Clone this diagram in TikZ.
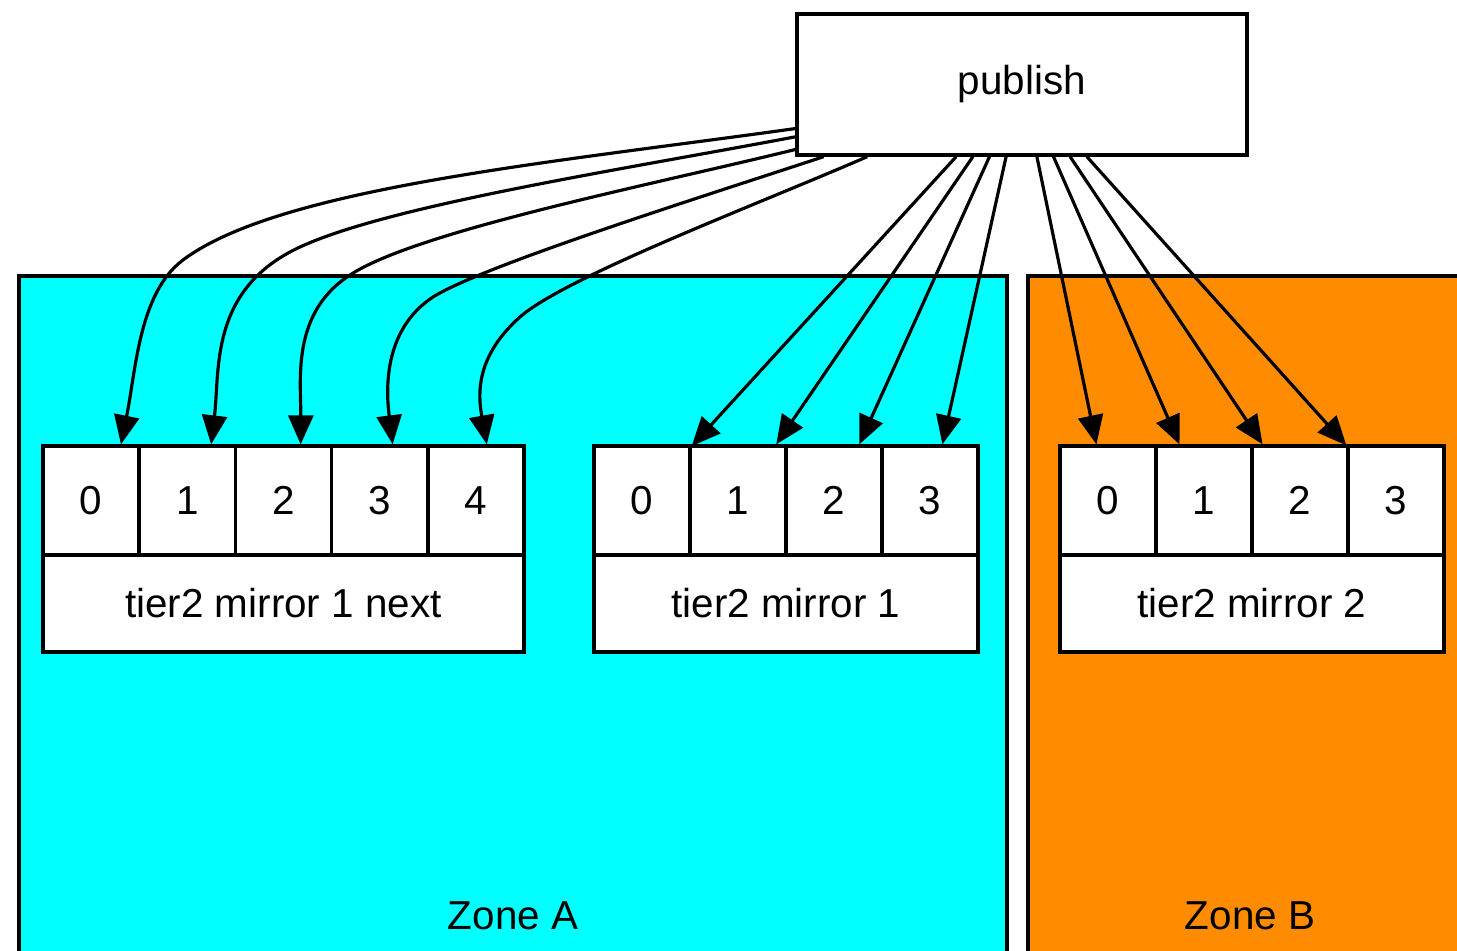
\documentclass[tikz,border=0pt]{standalone}
\usepackage{fontspec}
\setmainfont{Liberation Sans}
\usetikzlibrary{arrows.meta}
\definecolor{zonecyan}{RGB}{0,255,255}
\definecolor{zoneorange}{RGB}{255,140,0}

\begin{document}
\begin{tikzpicture}[
    x=0.02cm, y=-0.02cm,
    font=\fontsize{23}{27}\selectfont,
    >={Triangle[length=0.58cm,width=0.5cm]},
    zone/.style={
      draw,
      line width=1.9pt
    },
    slot/.style={
      draw,
      fill=white,
      line width=1.9pt,
      minimum width=1.92cm,
      minimum height=2.18cm,
      inner sep=0pt
    },
    mirror/.style={
      draw,
      fill=white,
      line width=1.9pt,
      minimum height=1.94cm,
      inner sep=0pt
    },
    publisher/.style={
      draw,
      fill=white,
      line width=1.9pt,
      minimum width=9cm,
      minimum height=2.82cm
    },
    link/.style={
      ->,
      line width=1.8pt
    }
  ]
    \useasboundingbox (0,0) rectangle (1457,950);
    \clip (0,0) rectangle (1457,950);

    % zones
    \draw[zone, fill=zonecyan] (19,276) rectangle (1007,970);
    \draw[zone, fill=zoneorange] (1028,276) rectangle (1472,970);
    \node (zA) at (513,916) {Zone A};
    \node (zB) at (1250,916) {Zone B};

    \node[publisher] (pub) at (1022,84.5) {publish};

    % tier2 mirror 1 next
    \node[slot] (n0) at (91.1,500.5) {0};
    \node[slot] (n1) at (187.3,500.5) {1};
    \node[slot] (n2) at (283.5,500.5) {2};
    \node[slot] (n3) at (379.7,500.5) {3};
    \node[slot] (n4) at (475.9,500.5) {4};
    \node[mirror, minimum width=9.62cm] (next) at (283.5,603.5) {tier2 mirror 1 next};

    % tier2 mirror 1
    \node[slot] (a0) at (642,500.5) {0};
    \node[slot] (a1) at (738,500.5) {1};
    \node[slot] (a2) at (834,500.5) {2};
    \node[slot] (a3) at (930,500.5) {3};
    \node[mirror, minimum width=7.68cm] (mirA) at (786,603.5) {tier2 mirror 1};

    % tier2 mirror 2
    \node[slot] (b0) at (1108,500.5) {0};
    \node[slot] (b1) at (1204,500.5) {1};
    \node[slot] (b2) at (1300,500.5) {2};
    \node[slot] (b3) at (1396,500.5) {3};
    \node[mirror, minimum width=7.68cm] (mirB) at (1252,603.5) {tier2 mirror 2};

    \draw[link] (pub.191) .. controls (549,163) and (279,188) .. (183,260)
      .. controls (139,293) and (136,370) .. (n0.62);
    \draw[link] (pub.193) .. controls (620,170) and (391,205) .. (300,247)
      .. controls (209,289) and (220,370) .. (n1.67);
    \draw[link] (pub.196) .. controls (651,185) and (417,231) .. (350,275)
      .. controls (291,313) and (301,380) .. (n2.73);
    \draw[link] (pub.200) .. controls (714,193) and (484,265) .. (433,297)
      .. controls (383,330) and (386,390) .. (n3.77);
    \draw[link] (pub.205) .. controls (761,203) and (565,277) .. (520,317)
      .. controls (475,357) and (478,395) .. (n4.79);

    \path[link]
      (pub) edge (a0) edge (a1) edge (a2) edge (a3)
            edge (b0) edge (b1) edge (b2) edge (b3);
  \end{tikzpicture}
\end{document}
